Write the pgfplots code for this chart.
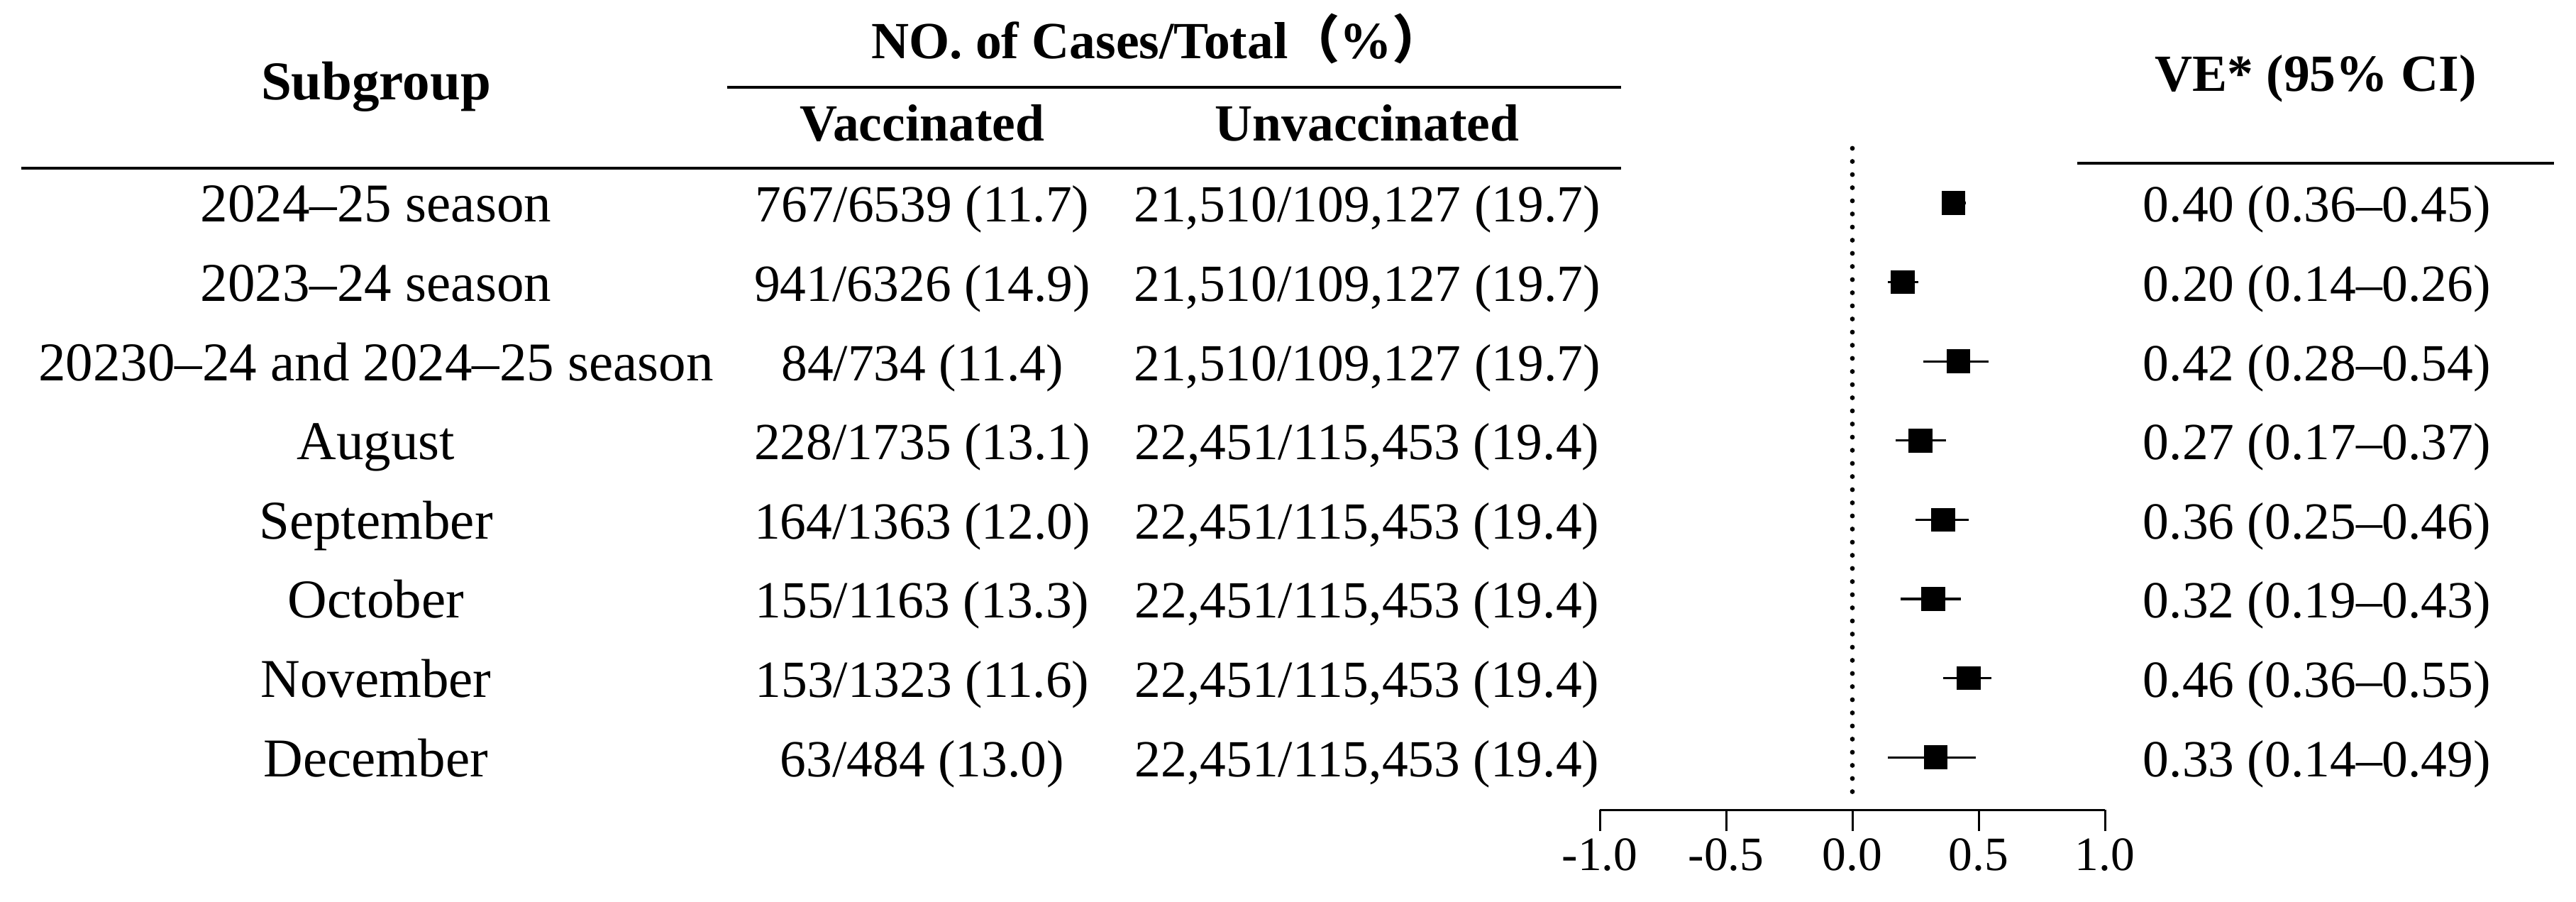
\documentclass[border=0pt]{standalone}
\usepackage{pgfplots}
\pgfplotsset{compat=1.18}
\usepackage{fontspec}
\setmainfont{Liberation Serif}
\newfontfamily\cjk{Noto Sans CJK SC}

\newcommand{\tabrow}[5]{%
  \pgfmathsetmacro{\yy}{285+(#1-1)*111.6+28}%
  \node[anchor=base, font=\fontsize{15.4bp}{17bp}\selectfont] at (530,\yy) {#2};%
  \node[anchor=base] at (1300,\yy) {#3};%
  \node[anchor=base] at (1927,\yy) {#4};%
  \node[anchor=base west, inner sep=0pt] at (3020,\yy) {#5};%
}
\begin{document}
\fontsize{14.7bp}{17bp}\selectfont
\begin{tikzpicture}
\useasboundingbox (0,0) rectangle (726.2bp,-254.2bp);
\begin{axis}[
  at={(451bp,-228.2bp)}, anchor=south west,
  width=142.4bp, height=193.32bp, scale only axis,
  xmin=-1, xmax=1, ymin=-8.661, ymax=0,
  axis x line=bottom, axis y line=none,
  x axis line style={-, line width=0.6bp, black},
  xtick={-1,-0.5,0,0.5,1},
  xticklabels={-1.0,-0.5,0.0,0.5,1.0},
  xtick align=outside, major tick length=6bp,
  tick style={line width=0.6bp, black},
  xticklabel style={font=\rmfamily\fontsize{13.5bp}{15bp}\selectfont, inner sep=2bp},
  clip=false,
]
\addplot[black, line width=1.35bp, line cap=round, dash pattern=on 0bp off 3.7bp]
  coordinates {(0,-0.31) (0,-8.51)};
\addplot[black, only marks, mark=square*, mark size=3.15bp,
  error bars/.cd, x dir=both, x explicit, error mark=none,
  error bar style={line width=0.65bp, black}]
  table[x=ve, y=row, x error minus=em, x error plus=ep] {
ve   row em   ep
0.40 -1  0.04 0.05
0.20 -2  0.06 0.06
0.42 -3  0.14 0.12
0.27 -4  0.10 0.10
0.36 -5  0.11 0.10
0.32 -6  0.13 0.11
0.46 -7  0.10 0.09
0.33 -8  0.19 0.16
};
\end{axis}
\begin{scope}[x=0.2bp, y=-0.2bp]
% headers
\node[anchor=base] at (1632,82) {\bfseries NO. of Cases/Total{\cjk （}\%{\cjk ）}};
\node[anchor=base, font=\fontsize{15.4bp}{17bp}\selectfont] at (530,140) {\bfseries Subgroup};
\node[anchor=base] at (1300,199) {\bfseries Vaccinated};
\node[anchor=base] at (1927,199) {\bfseries Unvaccinated};
\node[anchor=base] at (3264,128) {\bfseries VE* (95\% CI)};
\draw[line width=0.9bp] (1025,123) -- (2285,123);
\draw[line width=0.9bp] (30,237) -- (2285,237);
\draw[line width=0.9bp] (2928,230) -- (3600,230);
% rows
\tabrow{1}{2024--25 season}{767/6539 (11.7)}{21,510/109,127 (19.7)}{0.40 (0.36--0.45)}
\tabrow{2}{2023--24 season}{941/6326 (14.9)}{21,510/109,127 (19.7)}{0.20 (0.14--0.26)}
\tabrow{3}{20230--24 and 2024--25 season}{84/734 (11.4)}{21,510/109,127 (19.7)}{0.42 (0.28--0.54)}
\tabrow{4}{August}{228/1735 (13.1)}{22,451/115,453 (19.4)}{0.27 (0.17--0.37)}
\tabrow{5}{September}{164/1363 (12.0)}{22,451/115,453 (19.4)}{0.36 (0.25--0.46)}
\tabrow{6}{October}{155/1163 (13.3)}{22,451/115,453 (19.4)}{0.32 (0.19--0.43)}
\tabrow{7}{November}{153/1323 (11.6)}{22,451/115,453 (19.4)}{0.46 (0.36--0.55)}
\tabrow{8}{December}{63/484 (13.0)}{22,451/115,453 (19.4)}{0.33 (0.14--0.49)}
\end{scope}
\end{tikzpicture}
\end{document}
